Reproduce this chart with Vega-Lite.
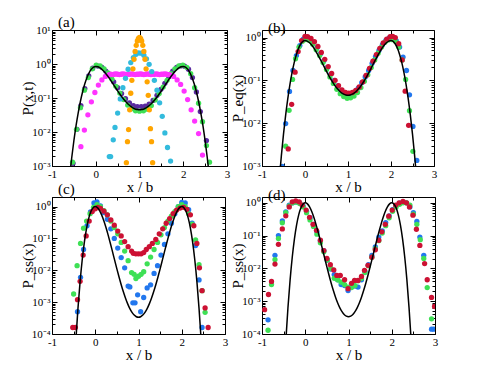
{
"$schema": "https://vega.github.io/schema/vega-lite/v6.json",
"padding": {"left": 20, "top": 15, "right": 5, "bottom": 5},
"config": {
 "font": "Liberation Serif",
 "view": {"stroke": null},
 "axis": {"grid": false, "domainColor": "black", "tickColor": "black", "labelColor": "black", "titleColor": "black", "labelFont": "Liberation Serif", "titleFont": "Liberation Serif", "labelFontSize": 11, "titleFontSize": 15, "titleFontWeight": "normal", "labelOverlap": false, "labelFlush": false},
 "title": {"font": "Liberation Serif", "fontSize": 15, "fontWeight": "normal", "anchor": "start", "color": "black", "frame": "group"}
},
"datasets": {
 "pts": [
  {"p":"a","s":"purple","x":-0.52,"y":0.0012},{"p":"a","s":"purple","x":-0.43,"y":0.012},{"p":"a","s":"purple","x":-0.34,"y":0.06},{"p":"a","s":"purple","x":-0.25,"y":0.19},{"p":"a","s":"purple","x":-0.16,"y":0.45},{"p":"a","s":"purple","x":-0.07,"y":0.75},{"p":"a","s":"purple","x":0.05,"y":0.87},{"p":"a","s":"purple","x":0.14,"y":0.8},{"p":"a","s":"purple","x":0.23,"y":0.62},{"p":"a","s":"purple","x":0.32,"y":0.45},{"p":"a","s":"purple","x":0.41,"y":0.3},{"p":"a","s":"purple","x":0.5,"y":0.2},{"p":"a","s":"purple","x":0.59,"y":0.135},{"p":"a","s":"purple","x":0.68,"y":0.095},{"p":"a","s":"purple","x":0.77,"y":0.072},{"p":"a","s":"purple","x":0.86,"y":0.06},{"p":"a","s":"purple","x":0.95,"y":0.056},{"p":"a","s":"purple","x":1.04,"y":0.056},{"p":"a","s":"purple","x":1.13,"y":0.058},{"p":"a","s":"purple","x":1.22,"y":0.066},{"p":"a","s":"purple","x":1.31,"y":0.085},{"p":"a","s":"purple","x":1.4,"y":0.12},{"p":"a","s":"purple","x":1.49,"y":0.18},{"p":"a","s":"purple","x":1.58,"y":0.27},{"p":"a","s":"purple","x":1.67,"y":0.42},{"p":"a","s":"purple","x":1.76,"y":0.62},{"p":"a","s":"purple","x":1.85,"y":0.8},{"p":"a","s":"purple","x":1.94,"y":0.88},{"p":"a","s":"purple","x":2.03,"y":0.86},{"p":"a","s":"purple","x":2.12,"y":0.7},{"p":"a","s":"purple","x":2.21,"y":0.4},{"p":"a","s":"purple","x":2.3,"y":0.15},{"p":"a","s":"purple","x":2.39,"y":0.04},{"p":"a","s":"purple","x":2.53,"y":0.0056},
  {"p":"a","s":"green","x":-0.53,"y":0.0013},{"p":"a","s":"green","x":-0.44,"y":0.012},{"p":"a","s":"green","x":-0.35,"y":0.052},{"p":"a","s":"green","x":-0.26,"y":0.17},{"p":"a","s":"green","x":-0.17,"y":0.4},{"p":"a","s":"green","x":-0.08,"y":0.72},{"p":"a","s":"green","x":0.01,"y":0.93},{"p":"a","s":"green","x":0.1,"y":0.88},{"p":"a","s":"green","x":0.19,"y":0.72},{"p":"a","s":"green","x":0.28,"y":0.55},{"p":"a","s":"green","x":0.37,"y":0.36},{"p":"a","s":"green","x":0.46,"y":0.22},{"p":"a","s":"green","x":0.55,"y":0.14},{"p":"a","s":"green","x":0.64,"y":0.09},{"p":"a","s":"green","x":0.73,"y":0.062},{"p":"a","s":"green","x":0.82,"y":0.048},{"p":"a","s":"green","x":0.91,"y":0.042},{"p":"a","s":"green","x":1.0,"y":0.041},{"p":"a","s":"green","x":1.09,"y":0.042},{"p":"a","s":"green","x":1.18,"y":0.047},{"p":"a","s":"green","x":1.27,"y":0.06},{"p":"a","s":"green","x":1.36,"y":0.088},{"p":"a","s":"green","x":1.45,"y":0.135},{"p":"a","s":"green","x":1.54,"y":0.21},{"p":"a","s":"green","x":1.63,"y":0.33},{"p":"a","s":"green","x":1.72,"y":0.52},{"p":"a","s":"green","x":1.81,"y":0.72},{"p":"a","s":"green","x":1.9,"y":0.88},{"p":"a","s":"green","x":1.99,"y":0.93},{"p":"a","s":"green","x":2.08,"y":0.8},{"p":"a","s":"green","x":2.17,"y":0.52},{"p":"a","s":"green","x":2.26,"y":0.2},{"p":"a","s":"green","x":2.35,"y":0.07},{"p":"a","s":"green","x":2.44,"y":0.02},{"p":"a","s":"green","x":2.53,"y":0.004},{"p":"a","s":"green","x":2.6,"y":0.0013},
  {"p":"a","s":"magenta","x":-0.34,"y":0.0037},{"p":"a","s":"magenta","x":-0.26,"y":0.0114},{"p":"a","s":"magenta","x":-0.18,"y":0.032},{"p":"a","s":"magenta","x":-0.1,"y":0.077},{"p":"a","s":"magenta","x":-0.02,"y":0.145},{"p":"a","s":"magenta","x":0.06,"y":0.24},{"p":"a","s":"magenta","x":0.14,"y":0.34},{"p":"a","s":"magenta","x":0.22,"y":0.43},{"p":"a","s":"magenta","x":0.3,"y":0.48},{"p":"a","s":"magenta","x":0.34,"y":0.5},{"p":"a","s":"magenta","x":0.38,"y":0.49},{"p":"a","s":"magenta","x":0.42,"y":0.5},{"p":"a","s":"magenta","x":0.46,"y":0.51},{"p":"a","s":"magenta","x":0.5,"y":0.5},{"p":"a","s":"magenta","x":0.54,"y":0.49},{"p":"a","s":"magenta","x":0.58,"y":0.5},{"p":"a","s":"magenta","x":0.62,"y":0.51},{"p":"a","s":"magenta","x":0.66,"y":0.5},{"p":"a","s":"magenta","x":0.7,"y":0.49},{"p":"a","s":"magenta","x":0.74,"y":0.5},{"p":"a","s":"magenta","x":0.78,"y":0.5},{"p":"a","s":"magenta","x":0.82,"y":0.51},{"p":"a","s":"magenta","x":0.86,"y":0.5},{"p":"a","s":"magenta","x":0.9,"y":0.49},{"p":"a","s":"magenta","x":0.94,"y":0.5},{"p":"a","s":"magenta","x":0.98,"y":0.5},{"p":"a","s":"magenta","x":1.02,"y":0.51},{"p":"a","s":"magenta","x":1.06,"y":0.5},{"p":"a","s":"magenta","x":1.1,"y":0.49},{"p":"a","s":"magenta","x":1.14,"y":0.5},{"p":"a","s":"magenta","x":1.18,"y":0.51},{"p":"a","s":"magenta","x":1.22,"y":0.5},{"p":"a","s":"magenta","x":1.26,"y":0.49},{"p":"a","s":"magenta","x":1.3,"y":0.5},{"p":"a","s":"magenta","x":1.34,"y":0.5},{"p":"a","s":"magenta","x":1.38,"y":0.51},{"p":"a","s":"magenta","x":1.42,"y":0.5},{"p":"a","s":"magenta","x":1.46,"y":0.49},{"p":"a","s":"magenta","x":1.5,"y":0.5},{"p":"a","s":"magenta","x":1.54,"y":0.5},{"p":"a","s":"magenta","x":1.58,"y":0.51},{"p":"a","s":"magenta","x":1.62,"y":0.5},{"p":"a","s":"magenta","x":1.66,"y":0.49},{"p":"a","s":"magenta","x":1.7,"y":0.48},{"p":"a","s":"magenta","x":1.78,"y":0.43},{"p":"a","s":"magenta","x":1.86,"y":0.34},{"p":"a","s":"magenta","x":1.94,"y":0.25},{"p":"a","s":"magenta","x":2.02,"y":0.16},{"p":"a","s":"magenta","x":2.1,"y":0.09},{"p":"a","s":"magenta","x":2.18,"y":0.045},{"p":"a","s":"magenta","x":2.26,"y":0.021},{"p":"a","s":"magenta","x":2.35,"y":0.009},{"p":"a","s":"magenta","x":2.44,"y":0.0021},
  {"p":"a","s":"cyan","x":0.31,"y":0.0019},{"p":"a","s":"cyan","x":0.34,"y":0.0019},{"p":"a","s":"cyan","x":0.4,"y":0.0059},{"p":"a","s":"cyan","x":0.44,"y":0.0136},{"p":"a","s":"cyan","x":0.5,"y":0.036},{"p":"a","s":"cyan","x":0.56,"y":0.094},{"p":"a","s":"cyan","x":0.62,"y":0.2},{"p":"a","s":"cyan","x":0.68,"y":0.38},{"p":"a","s":"cyan","x":0.74,"y":0.7},{"p":"a","s":"cyan","x":0.8,"y":1.1},{"p":"a","s":"cyan","x":0.86,"y":1.55},{"p":"a","s":"cyan","x":0.92,"y":1.93},{"p":"a","s":"cyan","x":0.98,"y":2.12},{"p":"a","s":"cyan","x":1.04,"y":2.08},{"p":"a","s":"cyan","x":1.1,"y":1.82},{"p":"a","s":"cyan","x":1.16,"y":1.42},{"p":"a","s":"cyan","x":1.22,"y":0.98},{"p":"a","s":"cyan","x":1.28,"y":0.6},{"p":"a","s":"cyan","x":1.34,"y":0.33},{"p":"a","s":"cyan","x":1.4,"y":0.17},{"p":"a","s":"cyan","x":1.46,"y":0.072},{"p":"a","s":"cyan","x":1.52,"y":0.029},{"p":"a","s":"cyan","x":1.58,"y":0.0094},{"p":"a","s":"cyan","x":1.64,"y":0.0035},{"p":"a","s":"cyan","x":1.71,"y":0.0014},
  {"p":"a","s":"orange","x":0.7,"y":0.00125},{"p":"a","s":"orange","x":0.725,"y":0.0052},{"p":"a","s":"orange","x":0.75,"y":0.0118},{"p":"a","s":"orange","x":0.775,"y":0.045},{"p":"a","s":"orange","x":0.8,"y":0.138},{"p":"a","s":"orange","x":0.825,"y":0.33},{"p":"a","s":"orange","x":0.85,"y":0.72},{"p":"a","s":"orange","x":0.875,"y":1.38},{"p":"a","s":"orange","x":0.9,"y":2.34},{"p":"a","s":"orange","x":0.925,"y":3.54},{"p":"a","s":"orange","x":0.95,"y":4.76},{"p":"a","s":"orange","x":0.975,"y":5.68},{"p":"a","s":"orange","x":1.0,"y":6.03},{"p":"a","s":"orange","x":1.025,"y":5.68},{"p":"a","s":"orange","x":1.05,"y":4.76},{"p":"a","s":"orange","x":1.075,"y":3.54},{"p":"a","s":"orange","x":1.1,"y":2.34},{"p":"a","s":"orange","x":1.125,"y":1.38},{"p":"a","s":"orange","x":1.15,"y":0.72},{"p":"a","s":"orange","x":1.175,"y":0.3},{"p":"a","s":"orange","x":1.2,"y":0.12},{"p":"a","s":"orange","x":1.225,"y":0.045},{"p":"a","s":"orange","x":1.25,"y":0.0125},{"p":"a","s":"orange","x":1.275,"y":0.0052},{"p":"a","s":"orange","x":1.3,"y":0.00125},

  {"p":"b","s":"blue","x":-0.53,"y":0.00098},{"p":"b","s":"blue","x":-0.45,"y":0.0098},{"p":"b","s":"blue","x":-0.36,"y":0.055},{"p":"b","s":"blue","x":-0.28,"y":0.17},{"p":"b","s":"blue","x":-0.2,"y":0.38},{"p":"b","s":"blue","x":-0.12,"y":0.65},{"p":"b","s":"blue","x":-0.04,"y":0.92},{"p":"b","s":"blue","x":0.04,"y":1.0},{"p":"b","s":"blue","x":0.12,"y":0.93},{"p":"b","s":"blue","x":0.2,"y":0.78},{"p":"b","s":"blue","x":0.28,"y":0.58},{"p":"b","s":"blue","x":0.36,"y":0.42},{"p":"b","s":"blue","x":0.44,"y":0.29},{"p":"b","s":"blue","x":0.52,"y":0.2},{"p":"b","s":"blue","x":0.6,"y":0.14},{"p":"b","s":"blue","x":0.68,"y":0.1},{"p":"b","s":"blue","x":0.76,"y":0.074},{"p":"b","s":"blue","x":0.84,"y":0.058},{"p":"b","s":"blue","x":0.92,"y":0.049},{"p":"b","s":"blue","x":1.0,"y":0.046},{"p":"b","s":"blue","x":1.08,"y":0.048},{"p":"b","s":"blue","x":1.16,"y":0.054},{"p":"b","s":"blue","x":1.24,"y":0.066},{"p":"b","s":"blue","x":1.32,"y":0.088},{"p":"b","s":"blue","x":1.4,"y":0.12},{"p":"b","s":"blue","x":1.48,"y":0.17},{"p":"b","s":"blue","x":1.56,"y":0.25},{"p":"b","s":"blue","x":1.64,"y":0.36},{"p":"b","s":"blue","x":1.72,"y":0.5},{"p":"b","s":"blue","x":1.8,"y":0.68},{"p":"b","s":"blue","x":1.88,"y":0.86},{"p":"b","s":"blue","x":1.96,"y":0.98},{"p":"b","s":"blue","x":2.04,"y":0.97},{"p":"b","s":"blue","x":2.12,"y":0.85},{"p":"b","s":"blue","x":2.2,"y":0.6},{"p":"b","s":"blue","x":2.28,"y":0.35},{"p":"b","s":"blue","x":2.36,"y":0.17},{"p":"b","s":"blue","x":2.43,"y":0.046},{"p":"b","s":"blue","x":2.51,"y":0.0084},{"p":"b","s":"blue","x":2.6,"y":0.00135},
  {"p":"b","s":"green","x":-0.45,"y":0.0029},{"p":"b","s":"green","x":-0.37,"y":0.02},{"p":"b","s":"green","x":-0.29,"y":0.105},{"p":"b","s":"green","x":-0.22,"y":0.32},{"p":"b","s":"green","x":-0.14,"y":0.6},{"p":"b","s":"green","x":-0.06,"y":0.82},{"p":"b","s":"green","x":0.02,"y":0.9},{"p":"b","s":"green","x":0.1,"y":0.85},{"p":"b","s":"green","x":0.18,"y":0.7},{"p":"b","s":"green","x":0.26,"y":0.52},{"p":"b","s":"green","x":0.34,"y":0.38},{"p":"b","s":"green","x":0.42,"y":0.26},{"p":"b","s":"green","x":0.5,"y":0.18},{"p":"b","s":"green","x":0.58,"y":0.12},{"p":"b","s":"green","x":0.66,"y":0.085},{"p":"b","s":"green","x":0.74,"y":0.062},{"p":"b","s":"green","x":0.82,"y":0.049},{"p":"b","s":"green","x":0.9,"y":0.042},{"p":"b","s":"green","x":0.98,"y":0.038},{"p":"b","s":"green","x":1.06,"y":0.039},{"p":"b","s":"green","x":1.14,"y":0.043},{"p":"b","s":"green","x":1.22,"y":0.052},{"p":"b","s":"green","x":1.3,"y":0.068},{"p":"b","s":"green","x":1.38,"y":0.095},{"p":"b","s":"green","x":1.46,"y":0.135},{"p":"b","s":"green","x":1.54,"y":0.2},{"p":"b","s":"green","x":1.62,"y":0.3},{"p":"b","s":"green","x":1.7,"y":0.43},{"p":"b","s":"green","x":1.78,"y":0.6},{"p":"b","s":"green","x":1.86,"y":0.78},{"p":"b","s":"green","x":1.94,"y":0.88},{"p":"b","s":"green","x":2.02,"y":0.9},{"p":"b","s":"green","x":2.1,"y":0.82},{"p":"b","s":"green","x":2.18,"y":0.6},{"p":"b","s":"green","x":2.26,"y":0.3},{"p":"b","s":"green","x":2.34,"y":0.105},{"p":"b","s":"green","x":2.43,"y":0.0195},{"p":"b","s":"green","x":2.51,"y":0.0022},
  {"p":"b","s":"red","x":-0.39,"y":0.0025},{"p":"b","s":"red","x":-0.31,"y":0.0275},{"p":"b","s":"red","x":-0.23,"y":0.155},{"p":"b","s":"red","x":-0.16,"y":0.47},{"p":"b","s":"red","x":-0.08,"y":0.85},{"p":"b","s":"red","x":0.0,"y":1.07},{"p":"b","s":"red","x":0.06,"y":1.05},{"p":"b","s":"red","x":0.14,"y":0.95},{"p":"b","s":"red","x":0.22,"y":0.8},{"p":"b","s":"red","x":0.3,"y":0.62},{"p":"b","s":"red","x":0.38,"y":0.45},{"p":"b","s":"red","x":0.46,"y":0.31},{"p":"b","s":"red","x":0.54,"y":0.21},{"p":"b","s":"red","x":0.62,"y":0.145},{"p":"b","s":"red","x":0.7,"y":0.1},{"p":"b","s":"red","x":0.78,"y":0.075},{"p":"b","s":"red","x":0.86,"y":0.06},{"p":"b","s":"red","x":0.94,"y":0.052},{"p":"b","s":"red","x":1.02,"y":0.05},{"p":"b","s":"red","x":1.1,"y":0.052},{"p":"b","s":"red","x":1.18,"y":0.058},{"p":"b","s":"red","x":1.26,"y":0.07},{"p":"b","s":"red","x":1.34,"y":0.092},{"p":"b","s":"red","x":1.42,"y":0.13},{"p":"b","s":"red","x":1.5,"y":0.19},{"p":"b","s":"red","x":1.58,"y":0.28},{"p":"b","s":"red","x":1.66,"y":0.4},{"p":"b","s":"red","x":1.74,"y":0.56},{"p":"b","s":"red","x":1.82,"y":0.75},{"p":"b","s":"red","x":1.9,"y":0.92},{"p":"b","s":"red","x":1.98,"y":1.05},{"p":"b","s":"red","x":2.04,"y":1.07},{"p":"b","s":"red","x":2.1,"y":1.0},{"p":"b","s":"red","x":2.18,"y":0.72},{"p":"b","s":"red","x":2.26,"y":0.3},{"p":"b","s":"red","x":2.33,"y":0.056},{"p":"b","s":"red","x":2.41,"y":0.0089},

  {"p":"c","s":"blue","x":-0.41,"y":0.0005},{"p":"c","s":"blue","x":-0.34,"y":0.006},{"p":"c","s":"blue","x":-0.27,"y":0.045},{"p":"c","s":"blue","x":-0.19,"y":0.25},{"p":"c","s":"blue","x":-0.11,"y":0.68},{"p":"c","s":"blue","x":-0.03,"y":1.3},{"p":"c","s":"blue","x":0.04,"y":1.4},{"p":"c","s":"blue","x":0.12,"y":1.05},{"p":"c","s":"blue","x":0.2,"y":0.65},{"p":"c","s":"blue","x":0.28,"y":0.4},{"p":"c","s":"blue","x":0.36,"y":0.2},{"p":"c","s":"blue","x":0.44,"y":0.1},{"p":"c","s":"blue","x":0.52,"y":0.05},{"p":"c","s":"blue","x":0.6,"y":0.025},{"p":"c","s":"blue","x":0.68,"y":0.012},{"p":"c","s":"blue","x":0.76,"y":0.0032},{"p":"c","s":"blue","x":0.8,"y":0.003},{"p":"c","s":"blue","x":0.87,"y":0.00095},{"p":"c","s":"blue","x":0.92,"y":0.00095},{"p":"c","s":"blue","x":0.98,"y":0.0017},{"p":"c","s":"blue","x":1.05,"y":0.0005},{"p":"c","s":"blue","x":1.12,"y":0.0014},{"p":"c","s":"blue","x":1.2,"y":0.0028},{"p":"c","s":"blue","x":1.28,"y":0.0035},{"p":"c","s":"blue","x":1.36,"y":0.008},{"p":"c","s":"blue","x":1.44,"y":0.014},{"p":"c","s":"blue","x":1.52,"y":0.03},{"p":"c","s":"blue","x":1.6,"y":0.065},{"p":"c","s":"blue","x":1.68,"y":0.14},{"p":"c","s":"blue","x":1.76,"y":0.3},{"p":"c","s":"blue","x":1.84,"y":0.6},{"p":"c","s":"blue","x":1.92,"y":1.0},{"p":"c","s":"blue","x":2.0,"y":1.35},{"p":"c","s":"blue","x":2.08,"y":1.3},{"p":"c","s":"blue","x":2.16,"y":0.8},{"p":"c","s":"blue","x":2.24,"y":0.3},{"p":"c","s":"blue","x":2.32,"y":0.06},{"p":"c","s":"blue","x":2.4,"y":0.005},{"p":"c","s":"blue","x":2.47,"y":0.00016},
  {"p":"c","s":"green","x":-0.5,"y":0.0018},{"p":"c","s":"green","x":-0.42,"y":0.014},{"p":"c","s":"green","x":-0.34,"y":0.07},{"p":"c","s":"green","x":-0.27,"y":0.21},{"p":"c","s":"green","x":-0.2,"y":0.35},{"p":"c","s":"green","x":-0.12,"y":0.6},{"p":"c","s":"green","x":-0.04,"y":0.95},{"p":"c","s":"green","x":0.04,"y":1.15},{"p":"c","s":"green","x":0.12,"y":1.0},{"p":"c","s":"green","x":0.2,"y":0.75},{"p":"c","s":"green","x":0.28,"y":0.55},{"p":"c","s":"green","x":0.36,"y":0.35},{"p":"c","s":"green","x":0.44,"y":0.22},{"p":"c","s":"green","x":0.52,"y":0.14},{"p":"c","s":"green","x":0.6,"y":0.075},{"p":"c","s":"green","x":0.68,"y":0.04},{"p":"c","s":"green","x":0.76,"y":0.02},{"p":"c","s":"green","x":0.84,"y":0.0085},{"p":"c","s":"green","x":0.9,"y":0.0075},{"p":"c","s":"green","x":0.94,"y":0.0055},{"p":"c","s":"green","x":1.0,"y":0.0065},{"p":"c","s":"green","x":1.06,"y":0.0075},{"p":"c","s":"green","x":1.12,"y":0.009},{"p":"c","s":"green","x":1.2,"y":0.016},{"p":"c","s":"green","x":1.28,"y":0.026},{"p":"c","s":"green","x":1.36,"y":0.045},{"p":"c","s":"green","x":1.44,"y":0.075},{"p":"c","s":"green","x":1.52,"y":0.13},{"p":"c","s":"green","x":1.6,"y":0.22},{"p":"c","s":"green","x":1.68,"y":0.35},{"p":"c","s":"green","x":1.76,"y":0.5},{"p":"c","s":"green","x":1.84,"y":0.7},{"p":"c","s":"green","x":1.92,"y":1.0},{"p":"c","s":"green","x":2.0,"y":1.15},{"p":"c","s":"green","x":2.08,"y":1.0},{"p":"c","s":"green","x":2.16,"y":0.6},{"p":"c","s":"green","x":2.24,"y":0.28},{"p":"c","s":"green","x":2.32,"y":0.09},{"p":"c","s":"green","x":2.4,"y":0.015},{"p":"c","s":"green","x":2.47,"y":0.0023},{"p":"c","s":"green","x":2.54,"y":0.00048},
  {"p":"c","s":"red","x":-0.52,"y":0.00016},{"p":"c","s":"red","x":-0.46,"y":0.00016},{"p":"c","s":"red","x":-0.41,"y":0.0012},{"p":"c","s":"red","x":-0.35,"y":0.0045},{"p":"c","s":"red","x":-0.28,"y":0.03},{"p":"c","s":"red","x":-0.21,"y":0.12},{"p":"c","s":"red","x":-0.14,"y":0.35},{"p":"c","s":"red","x":-0.07,"y":0.7},{"p":"c","s":"red","x":0.0,"y":0.85},{"p":"c","s":"red","x":0.06,"y":0.95},{"p":"c","s":"red","x":0.12,"y":0.88},{"p":"c","s":"red","x":0.2,"y":0.72},{"p":"c","s":"red","x":0.28,"y":0.55},{"p":"c","s":"red","x":0.36,"y":0.38},{"p":"c","s":"red","x":0.44,"y":0.26},{"p":"c","s":"red","x":0.52,"y":0.17},{"p":"c","s":"red","x":0.6,"y":0.12},{"p":"c","s":"red","x":0.68,"y":0.08},{"p":"c","s":"red","x":0.76,"y":0.055},{"p":"c","s":"red","x":0.84,"y":0.04},{"p":"c","s":"red","x":0.88,"y":0.034},{"p":"c","s":"red","x":0.94,"y":0.033},{"p":"c","s":"red","x":1.0,"y":0.033},{"p":"c","s":"red","x":1.06,"y":0.033},{"p":"c","s":"red","x":1.12,"y":0.036},{"p":"c","s":"red","x":1.18,"y":0.045},{"p":"c","s":"red","x":1.25,"y":0.055},{"p":"c","s":"red","x":1.32,"y":0.07},{"p":"c","s":"red","x":1.4,"y":0.093},{"p":"c","s":"red","x":1.48,"y":0.14},{"p":"c","s":"red","x":1.56,"y":0.2},{"p":"c","s":"red","x":1.64,"y":0.3},{"p":"c","s":"red","x":1.72,"y":0.42},{"p":"c","s":"red","x":1.8,"y":0.6},{"p":"c","s":"red","x":1.88,"y":0.78},{"p":"c","s":"red","x":1.96,"y":0.9},{"p":"c","s":"red","x":2.04,"y":0.95},{"p":"c","s":"red","x":2.12,"y":0.82},{"p":"c","s":"red","x":2.2,"y":0.55},{"p":"c","s":"red","x":2.28,"y":0.25},{"p":"c","s":"red","x":2.35,"y":0.07},{"p":"c","s":"red","x":2.41,"y":0.012},{"p":"c","s":"red","x":2.47,"y":0.0023},{"p":"c","s":"red","x":2.54,"y":0.00066},{"p":"c","s":"red","x":2.61,"y":0.00016},

  {"p":"d","s":"blue","x":-0.86,"y":0.00027},{"p":"d","s":"blue","x":-0.7,"y":0.025},{"p":"d","s":"blue","x":-0.62,"y":0.1},{"p":"d","s":"blue","x":-0.53,"y":0.28},{"p":"d","s":"blue","x":-0.45,"y":0.53},{"p":"d","s":"blue","x":-0.37,"y":0.85},{"p":"d","s":"blue","x":-0.29,"y":1.0},{"p":"d","s":"blue","x":-0.21,"y":1.05},{"p":"d","s":"blue","x":-0.13,"y":1.0},{"p":"d","s":"blue","x":-0.05,"y":0.8},{"p":"d","s":"blue","x":0.03,"y":0.55},{"p":"d","s":"blue","x":0.11,"y":0.35},{"p":"d","s":"blue","x":0.19,"y":0.22},{"p":"d","s":"blue","x":0.27,"y":0.13},{"p":"d","s":"blue","x":0.35,"y":0.07},{"p":"d","s":"blue","x":0.43,"y":0.035},{"p":"d","s":"blue","x":0.51,"y":0.018},{"p":"d","s":"blue","x":0.59,"y":0.0095},{"p":"d","s":"blue","x":0.67,"y":0.0065},{"p":"d","s":"blue","x":0.75,"y":0.0045},{"p":"d","s":"blue","x":0.83,"y":0.0032},{"p":"d","s":"blue","x":0.91,"y":0.003},{"p":"d","s":"blue","x":0.99,"y":0.0021},{"p":"d","s":"blue","x":1.07,"y":0.0028},{"p":"d","s":"blue","x":1.15,"y":0.0029},{"p":"d","s":"blue","x":1.22,"y":0.0027},{"p":"d","s":"blue","x":1.3,"y":0.0045},{"p":"d","s":"blue","x":1.38,"y":0.008},{"p":"d","s":"blue","x":1.46,"y":0.013},{"p":"d","s":"blue","x":1.54,"y":0.025},{"p":"d","s":"blue","x":1.62,"y":0.045},{"p":"d","s":"blue","x":1.7,"y":0.09},{"p":"d","s":"blue","x":1.78,"y":0.14},{"p":"d","s":"blue","x":1.86,"y":0.25},{"p":"d","s":"blue","x":1.94,"y":0.4},{"p":"d","s":"blue","x":2.02,"y":0.62},{"p":"d","s":"blue","x":2.1,"y":0.82},{"p":"d","s":"blue","x":2.18,"y":0.97},{"p":"d","s":"blue","x":2.26,"y":1.05},{"p":"d","s":"blue","x":2.34,"y":1.0},{"p":"d","s":"blue","x":2.42,"y":0.75},{"p":"d","s":"blue","x":2.5,"y":0.5},{"p":"d","s":"blue","x":2.58,"y":0.27},{"p":"d","s":"blue","x":2.65,"y":0.09},{"p":"d","s":"blue","x":2.74,"y":0.025},{"p":"d","s":"blue","x":2.92,"y":0.00014},{"p":"d","s":"blue","x":2.97,"y":0.00014},
  {"p":"d","s":"green","x":-0.86,"y":0.00013},{"p":"d","s":"green","x":-0.78,"y":0.0032},{"p":"d","s":"green","x":-0.7,"y":0.0185},{"p":"d","s":"green","x":-0.62,"y":0.081},{"p":"d","s":"green","x":-0.53,"y":0.245},{"p":"d","s":"green","x":-0.45,"y":0.5},{"p":"d","s":"green","x":-0.37,"y":0.8},{"p":"d","s":"green","x":-0.29,"y":1.0},{"p":"d","s":"green","x":-0.21,"y":1.05},{"p":"d","s":"green","x":-0.13,"y":0.95},{"p":"d","s":"green","x":-0.05,"y":0.75},{"p":"d","s":"green","x":0.03,"y":0.5},{"p":"d","s":"green","x":0.11,"y":0.3},{"p":"d","s":"green","x":0.19,"y":0.19},{"p":"d","s":"green","x":0.27,"y":0.11},{"p":"d","s":"green","x":0.35,"y":0.06},{"p":"d","s":"green","x":0.43,"y":0.032},{"p":"d","s":"green","x":0.51,"y":0.018},{"p":"d","s":"green","x":0.59,"y":0.01},{"p":"d","s":"green","x":0.67,"y":0.005},{"p":"d","s":"green","x":0.75,"y":0.0045},{"p":"d","s":"green","x":0.83,"y":0.0038},{"p":"d","s":"green","x":0.91,"y":0.0032},{"p":"d","s":"green","x":0.99,"y":0.0027},{"p":"d","s":"green","x":1.07,"y":0.0026},{"p":"d","s":"green","x":1.15,"y":0.003},{"p":"d","s":"green","x":1.22,"y":0.0042},{"p":"d","s":"green","x":1.3,"y":0.005},{"p":"d","s":"green","x":1.38,"y":0.0075},{"p":"d","s":"green","x":1.46,"y":0.012},{"p":"d","s":"green","x":1.54,"y":0.022},{"p":"d","s":"green","x":1.62,"y":0.04},{"p":"d","s":"green","x":1.7,"y":0.07},{"p":"d","s":"green","x":1.78,"y":0.12},{"p":"d","s":"green","x":1.86,"y":0.2},{"p":"d","s":"green","x":1.94,"y":0.35},{"p":"d","s":"green","x":2.02,"y":0.55},{"p":"d","s":"green","x":2.1,"y":0.75},{"p":"d","s":"green","x":2.18,"y":0.9},{"p":"d","s":"green","x":2.26,"y":1.0},{"p":"d","s":"green","x":2.34,"y":1.0},{"p":"d","s":"green","x":2.42,"y":0.85},{"p":"d","s":"green","x":2.5,"y":0.45},{"p":"d","s":"green","x":2.58,"y":0.22},{"p":"d","s":"green","x":2.66,"y":0.075},{"p":"d","s":"green","x":2.74,"y":0.02},{"p":"d","s":"green","x":2.82,"y":0.0026},{"p":"d","s":"green","x":2.92,"y":0.00029},
  {"p":"d","s":"red","x":-0.94,"y":0.00055},{"p":"d","s":"red","x":-0.85,"y":0.0016},{"p":"d","s":"red","x":-0.78,"y":0.004},{"p":"d","s":"red","x":-0.7,"y":0.0135},{"p":"d","s":"red","x":-0.62,"y":0.054},{"p":"d","s":"red","x":-0.53,"y":0.16},{"p":"d","s":"red","x":-0.45,"y":0.4},{"p":"d","s":"red","x":-0.37,"y":0.75},{"p":"d","s":"red","x":-0.3,"y":1.07},{"p":"d","s":"red","x":-0.22,"y":1.15},{"p":"d","s":"red","x":-0.14,"y":1.07},{"p":"d","s":"red","x":-0.07,"y":0.85},{"p":"d","s":"red","x":0.02,"y":0.6},{"p":"d","s":"red","x":0.1,"y":0.36},{"p":"d","s":"red","x":0.18,"y":0.22},{"p":"d","s":"red","x":0.26,"y":0.145},{"p":"d","s":"red","x":0.35,"y":0.072},{"p":"d","s":"red","x":0.43,"y":0.035},{"p":"d","s":"red","x":0.5,"y":0.02},{"p":"d","s":"red","x":0.58,"y":0.013},{"p":"d","s":"red","x":0.66,"y":0.009},{"p":"d","s":"red","x":0.73,"y":0.0061},{"p":"d","s":"red","x":0.81,"y":0.0061},{"p":"d","s":"red","x":0.91,"y":0.0045},{"p":"d","s":"red","x":0.99,"y":0.0024},{"p":"d","s":"red","x":1.07,"y":0.0035},{"p":"d","s":"red","x":1.14,"y":0.0043},{"p":"d","s":"red","x":1.22,"y":0.0043},{"p":"d","s":"red","x":1.3,"y":0.0057},{"p":"d","s":"red","x":1.37,"y":0.0087},{"p":"d","s":"red","x":1.45,"y":0.0124},{"p":"d","s":"red","x":1.54,"y":0.022},{"p":"d","s":"red","x":1.62,"y":0.037},{"p":"d","s":"red","x":1.7,"y":0.072},{"p":"d","s":"red","x":1.77,"y":0.13},{"p":"d","s":"red","x":1.85,"y":0.22},{"p":"d","s":"red","x":1.93,"y":0.39},{"p":"d","s":"red","x":2.01,"y":0.6},{"p":"d","s":"red","x":2.09,"y":0.85},{"p":"d","s":"red","x":2.17,"y":1.0},{"p":"d","s":"red","x":2.26,"y":1.1},{"p":"d","s":"red","x":2.34,"y":1.0},{"p":"d","s":"red","x":2.41,"y":0.75},{"p":"d","s":"red","x":2.49,"y":0.42},{"p":"d","s":"red","x":2.57,"y":0.156},{"p":"d","s":"red","x":2.65,"y":0.05},{"p":"d","s":"red","x":2.76,"y":0.014},{"p":"d","s":"red","x":2.82,"y":0.0045},{"p":"d","s":"red","x":2.92,"y":0.0013},{"p":"d","s":"red","x":2.99,"y":0.00069}
 ],
 "crv": [
  {"k":"eq","x":-0.6,"y":0.000458},{"k":"eq","x":-0.55,"y":0.00172},{"k":"eq","x":-0.5,"y":0.00553},{"k":"eq","x":-0.45,"y":0.0154},{"k":"eq","x":-0.4,"y":0.0374},{"k":"eq","x":-0.35,"y":0.0804},{"k":"eq","x":-0.3,"y":0.153},{"k":"eq","x":-0.25,"y":0.262},{"k":"eq","x":-0.2,"y":0.403},{"k":"eq","x":-0.15,"y":0.56},{"k":"eq","x":-0.1,"y":0.707},{"k":"eq","x":-0.05,"y":0.813},{"k":"eq","x":0,"y":0.85},{"k":"eq","x":0.05,"y":0.8266},{"k":"eq","x":0.1,"y":0.7644},{"k":"eq","x":0.15,"y":0.6778},{"k":"eq","x":0.2,"y":0.5807},{"k":"eq","x":0.25,"y":0.4842},{"k":"eq","x":0.3,"y":0.3957},{"k":"eq","x":0.35,"y":0.3188},{"k":"eq","x":0.4,"y":0.2549},{"k":"eq","x":0.45,"y":0.2033},{"k":"eq","x":0.5,"y":0.1626},{"k":"eq","x":0.55,"y":0.1311},{"k":"eq","x":0.6,"y":0.1068},{"k":"eq","x":0.65,"y":0.0884},{"k":"eq","x":0.7,"y":0.0745},{"k":"eq","x":0.75,"y":0.0642},{"k":"eq","x":0.8,"y":0.0566},{"k":"eq","x":0.85,"y":0.0512},{"k":"eq","x":0.9,"y":0.0476},{"k":"eq","x":0.95,"y":0.0456},{"k":"eq","x":1.0,"y":0.045},{"k":"eq","x":1.05,"y":0.0456},{"k":"eq","x":1.1,"y":0.0476},{"k":"eq","x":1.15,"y":0.0512},{"k":"eq","x":1.2,"y":0.0566},{"k":"eq","x":1.25,"y":0.0642},{"k":"eq","x":1.3,"y":0.0745},{"k":"eq","x":1.35,"y":0.0884},{"k":"eq","x":1.4,"y":0.1068},{"k":"eq","x":1.45,"y":0.1311},{"k":"eq","x":1.5,"y":0.1626},{"k":"eq","x":1.55,"y":0.2033},{"k":"eq","x":1.6,"y":0.2549},{"k":"eq","x":1.65,"y":0.3188},{"k":"eq","x":1.7,"y":0.3957},{"k":"eq","x":1.75,"y":0.4842},{"k":"eq","x":1.8,"y":0.5807},{"k":"eq","x":1.85,"y":0.6778},{"k":"eq","x":1.9,"y":0.7644},{"k":"eq","x":1.95,"y":0.8266},{"k":"eq","x":2.0,"y":0.85},{"k":"eq","x":2.05,"y":0.813},{"k":"eq","x":2.1,"y":0.707},{"k":"eq","x":2.15,"y":0.56},{"k":"eq","x":2.2,"y":0.403},{"k":"eq","x":2.25,"y":0.262},{"k":"eq","x":2.3,"y":0.153},{"k":"eq","x":2.35,"y":0.0804},{"k":"eq","x":2.4,"y":0.0374},{"k":"eq","x":2.45,"y":0.0154},{"k":"eq","x":2.5,"y":0.00553},{"k":"eq","x":2.55,"y":0.00172},{"k":"eq","x":2.6,"y":0.000458},
  {"k":"ss","x":-0.45,"y":0.00006},{"k":"ss","x":-0.4,"y":0.000628},{"k":"ss","x":-0.35,"y":0.00447},{"k":"ss","x":-0.3,"y":0.0222},{"k":"ss","x":-0.25,"y":0.0796},{"k":"ss","x":-0.2,"y":0.2125},{"k":"ss","x":-0.15,"y":0.435},{"k":"ss","x":-0.1,"y":0.703},{"k":"ss","x":-0.05,"y":0.919},{"k":"ss","x":0,"y":1.0},{"k":"ss","x":0.05,"y":0.9268},{"k":"ss","x":0.1,"y":0.7492},{"k":"ss","x":0.15,"y":0.5401},{"k":"ss","x":0.2,"y":0.3546},{"k":"ss","x":0.25,"y":0.2163},{"k":"ss","x":0.3,"y":0.1248},{"k":"ss","x":0.35,"y":0.0694},{"k":"ss","x":0.4,"y":0.03775},{"k":"ss","x":0.45,"y":0.02041},{"k":"ss","x":0.5,"y":0.01111},{"k":"ss","x":0.55,"y":0.00617},{"k":"ss","x":0.6,"y":0.003536},{"k":"ss","x":0.65,"y":0.002112},{"k":"ss","x":0.7,"y":0.001327},{"k":"ss","x":0.75,"y":0.000884},{"k":"ss","x":0.8,"y":0.000628},{"k":"ss","x":0.85,"y":0.000479},{"k":"ss","x":0.9,"y":0.000393},{"k":"ss","x":0.95,"y":0.000349},{"k":"ss","x":1.0,"y":0.000335},{"k":"ss","x":1.05,"y":0.000349},{"k":"ss","x":1.1,"y":0.000393},{"k":"ss","x":1.15,"y":0.000479},{"k":"ss","x":1.2,"y":0.000628},{"k":"ss","x":1.25,"y":0.000884},{"k":"ss","x":1.3,"y":0.001327},{"k":"ss","x":1.35,"y":0.002112},{"k":"ss","x":1.4,"y":0.003536},{"k":"ss","x":1.45,"y":0.00617},{"k":"ss","x":1.5,"y":0.01111},{"k":"ss","x":1.55,"y":0.02041},{"k":"ss","x":1.6,"y":0.03775},{"k":"ss","x":1.65,"y":0.0694},{"k":"ss","x":1.7,"y":0.1248},{"k":"ss","x":1.75,"y":0.2163},{"k":"ss","x":1.8,"y":0.3546},{"k":"ss","x":1.85,"y":0.5401},{"k":"ss","x":1.9,"y":0.7492},{"k":"ss","x":1.95,"y":0.9268},{"k":"ss","x":2.0,"y":1.0},{"k":"ss","x":2.05,"y":0.919},{"k":"ss","x":2.1,"y":0.703},{"k":"ss","x":2.15,"y":0.435},{"k":"ss","x":2.2,"y":0.2125},{"k":"ss","x":2.25,"y":0.0796},{"k":"ss","x":2.3,"y":0.0222},{"k":"ss","x":2.35,"y":0.00447},{"k":"ss","x":2.4,"y":0.000628},{"k":"ss","x":2.45,"y":0.00006}
 ]
},
"columns": 2,
"spacing": {"row": 31, "column": 35},
"bounds": "flush",
"concat": [
  {"width": 175, "height": 136,
   "title": {"text": "(a)", "dx": 6, "offset": -6},
   "layer": [
    {"data": {"name": "pts"}, "transform": [{"filter": "datum.p == 'a'"}],
     "mark": {"type": "circle", "size": 28, "opacity": 1, "clip": true},
     "encoding": {
      "x": {"field": "x", "type": "quantitative", "scale": {"domain": [-1, 3]}, "axis": {"orient": "bottom", "values": [-1,-0.5,0,0.5,1,1.5,2,2.5,3], "labelExpr": "datum.value % 1 == 0 ? '' + datum.value : ''", "tickSize": {"condition": {"test": "datum.value % 1 == 0", "value": -5}, "value": -3}, "labelPadding": 7, "title": "x / b", "titlePadding": -2}},
      "y": {"field": "y", "type": "quantitative", "scale": {"type": "log", "domain": [0.001, 10]}, "axis": {"orient": "left", "values": [0.001,0.002,0.003,0.004,0.005,0.006,0.007,0.008,0.009,0.01,0.02,0.03,0.04,0.05,0.06,0.07,0.08,0.09,0.1,0.2,0.3,0.4,0.5,0.6,0.7,0.8,0.9,1,2,3,4,5,6,7,8,9,10], "labelExpr": "datum.value == 10 ? '10¹' : datum.value == 1 ? '10⁰' : datum.value == 0.1 ? '10⁻¹' : datum.value == 0.01 ? '10⁻²' : datum.value == 0.001 ? '10⁻³' : datum.value == 0.0001 ? '10⁻⁴' : ''", "tickSize": {"condition": {"test": "indexof([10,1,0.1,0.01,0.001,0.0001], datum.value) >= 0", "value": -5}, "value": -3}, "labelPadding": 7, "title": "P(x,t)", "titlePadding": -4}},
      "color": {"field": "s", "type": "nominal", "scale": {"domain": ["green","purple","magenta","cyan","orange","blue","red"], "range": ["#3ee055","#5a2aa0","#ff33ff","#33bbdd","#ffa500","#2277ee","#cc1133"]}, "legend": null}
     }},
    {"data": {"name": "crv"}, "transform": [{"filter": "datum.k == 'eq'"}],
     "mark": {"type": "line", "color": "black", "strokeWidth": 1.5, "clip": true, "interpolate": "monotone"},
     "encoding": {
      "x": {"field": "x", "type": "quantitative", "scale": {"domain": [-1, 3]}, "axis": {"orient": "top", "values": [-1,-0.5,0,0.5,1,1.5,2,2.5,3], "labels": false, "tickSize": {"condition": {"test": "datum.value % 1 == 0", "value": -5}, "value": -3}, "title": null}},
      "y": {"field": "y", "type": "quantitative", "scale": {"type": "log", "domain": [0.001, 10]}, "axis": {"orient": "right", "values": [0.001,0.002,0.003,0.004,0.005,0.006,0.007,0.008,0.009,0.01,0.02,0.03,0.04,0.05,0.06,0.07,0.08,0.09,0.1,0.2,0.3,0.4,0.5,0.6,0.7,0.8,0.9,1,2,3,4,5,6,7,8,9,10], "labels": false, "tickSize": {"condition": {"test": "indexof([10,1,0.1,0.01,0.001,0.0001], datum.value) >= 0", "value": -5}, "value": -3}, "title": null}}
     }}
   ],
   "resolve": {"axis": {"x": "independent", "y": "independent"}}
  },
  {"width": 172, "height": 136,
   "title": {"text": "(b)", "dx": 6, "offset": -6},
   "layer": [
    {"data": {"name": "pts"}, "transform": [{"filter": "datum.p == 'b'"}],
     "mark": {"type": "circle", "size": 28, "opacity": 1, "clip": true},
     "encoding": {
      "x": {"field": "x", "type": "quantitative", "scale": {"domain": [-1, 3]}, "axis": {"orient": "bottom", "values": [-1,-0.5,0,0.5,1,1.5,2,2.5,3], "labelExpr": "datum.value % 1 == 0 ? '' + datum.value : ''", "tickSize": {"condition": {"test": "datum.value % 1 == 0", "value": -5}, "value": -3}, "labelPadding": 7, "title": "x / b", "titlePadding": -2}},
      "y": {"field": "y", "type": "quantitative", "scale": {"type": "log", "domain": [0.001, 1.5]}, "axis": {"orient": "left", "values": [0.001,0.002,0.003,0.004,0.005,0.006,0.007,0.008,0.009,0.01,0.02,0.03,0.04,0.05,0.06,0.07,0.08,0.09,0.1,0.2,0.3,0.4,0.5,0.6,0.7,0.8,0.9,1], "labelExpr": "datum.value == 10 ? '10¹' : datum.value == 1 ? '10⁰' : datum.value == 0.1 ? '10⁻¹' : datum.value == 0.01 ? '10⁻²' : datum.value == 0.001 ? '10⁻³' : datum.value == 0.0001 ? '10⁻⁴' : ''", "tickSize": {"condition": {"test": "indexof([10,1,0.1,0.01,0.001,0.0001], datum.value) >= 0", "value": -5}, "value": -3}, "labelPadding": 7, "title": "P_eq(x)", "titlePadding": -4}},
      "color": {"field": "s", "type": "nominal", "scale": {"domain": ["green","purple","magenta","cyan","orange","blue","red"], "range": ["#3ee055","#5a2aa0","#ff33ff","#33bbdd","#ffa500","#2277ee","#cc1133"]}, "legend": null}
     }},
    {"data": {"name": "crv"}, "transform": [{"filter": "datum.k == 'eq'"}],
     "mark": {"type": "line", "color": "black", "strokeWidth": 1.5, "clip": true, "interpolate": "monotone"},
     "encoding": {
      "x": {"field": "x", "type": "quantitative", "scale": {"domain": [-1, 3]}, "axis": {"orient": "top", "values": [-1,-0.5,0,0.5,1,1.5,2,2.5,3], "labels": false, "tickSize": {"condition": {"test": "datum.value % 1 == 0", "value": -5}, "value": -3}, "title": null}},
      "y": {"field": "y", "type": "quantitative", "scale": {"type": "log", "domain": [0.001, 1.5]}, "axis": {"orient": "right", "values": [0.001,0.002,0.003,0.004,0.005,0.006,0.007,0.008,0.009,0.01,0.02,0.03,0.04,0.05,0.06,0.07,0.08,0.09,0.1,0.2,0.3,0.4,0.5,0.6,0.7,0.8,0.9,1], "labels": false, "tickSize": {"condition": {"test": "indexof([10,1,0.1,0.01,0.001,0.0001], datum.value) >= 0", "value": -5}, "value": -3}, "title": null}}
     }}
   ],
   "resolve": {"axis": {"x": "independent", "y": "independent"}}
  },
  {"width": 173, "height": 137,
   "title": {"text": "(c)", "dx": 6, "offset": -6},
   "layer": [
    {"data": {"name": "pts"}, "transform": [{"filter": "datum.p == 'c'"}],
     "mark": {"type": "circle", "size": 28, "opacity": 1, "clip": true},
     "encoding": {
      "x": {"field": "x", "type": "quantitative", "scale": {"domain": [-1, 3]}, "axis": {"orient": "bottom", "values": [-1,-0.5,0,0.5,1,1.5,2,2.5,3], "labelExpr": "datum.value % 1 == 0 ? '' + datum.value : ''", "tickSize": {"condition": {"test": "datum.value % 1 == 0", "value": -5}, "value": -3}, "labelPadding": 7, "title": "x / b", "titlePadding": -2}},
      "y": {"field": "y", "type": "quantitative", "scale": {"type": "log", "domain": [0.0001, 2]}, "axis": {"orient": "left", "values": [0.0001,0.0002,0.0003,0.0004,0.0005,0.0006,0.0007,0.0008,0.0009,0.001,0.002,0.003,0.004,0.005,0.006,0.007,0.008,0.009,0.01,0.02,0.03,0.04,0.05,0.06,0.07,0.08,0.09,0.1,0.2,0.3,0.4,0.5,0.6,0.7,0.8,0.9,1,2], "labelExpr": "datum.value == 10 ? '10¹' : datum.value == 1 ? '10⁰' : datum.value == 0.1 ? '10⁻¹' : datum.value == 0.01 ? '10⁻²' : datum.value == 0.001 ? '10⁻³' : datum.value == 0.0001 ? '10⁻⁴' : ''", "tickSize": {"condition": {"test": "indexof([10,1,0.1,0.01,0.001,0.0001], datum.value) >= 0", "value": -5}, "value": -3}, "labelPadding": 7, "title": "P_ss(x)", "titlePadding": -4}},
      "color": {"field": "s", "type": "nominal", "scale": {"domain": ["green","purple","magenta","cyan","orange","blue","red"], "range": ["#3ee055","#5a2aa0","#ff33ff","#33bbdd","#ffa500","#2277ee","#cc1133"]}, "legend": null}
     }},
    {"data": {"name": "crv"}, "transform": [{"filter": "datum.k == 'ss'"}],
     "mark": {"type": "line", "color": "black", "strokeWidth": 1.5, "clip": true, "interpolate": "monotone"},
     "encoding": {
      "x": {"field": "x", "type": "quantitative", "scale": {"domain": [-1, 3]}, "axis": {"orient": "top", "values": [-1,-0.5,0,0.5,1,1.5,2,2.5,3], "labels": false, "tickSize": {"condition": {"test": "datum.value % 1 == 0", "value": -5}, "value": -3}, "title": null}},
      "y": {"field": "y", "type": "quantitative", "scale": {"type": "log", "domain": [0.0001, 2]}, "axis": {"orient": "right", "values": [0.0001,0.0002,0.0003,0.0004,0.0005,0.0006,0.0007,0.0008,0.0009,0.001,0.002,0.003,0.004,0.005,0.006,0.007,0.008,0.009,0.01,0.02,0.03,0.04,0.05,0.06,0.07,0.08,0.09,0.1,0.2,0.3,0.4,0.5,0.6,0.7,0.8,0.9,1,2], "labels": false, "tickSize": {"condition": {"test": "indexof([10,1,0.1,0.01,0.001,0.0001], datum.value) >= 0", "value": -5}, "value": -3}, "title": null}}
     }}
   ],
   "resolve": {"axis": {"x": "independent", "y": "independent"}}
  },
  {"width": 173, "height": 137,
   "title": {"text": "(d)", "dx": 6, "offset": -6},
   "layer": [
    {"data": {"name": "pts"}, "transform": [{"filter": "datum.p == 'd'"}],
     "mark": {"type": "circle", "size": 28, "opacity": 1, "clip": true},
     "encoding": {
      "x": {"field": "x", "type": "quantitative", "scale": {"domain": [-1, 3]}, "axis": {"orient": "bottom", "values": [-1,-0.5,0,0.5,1,1.5,2,2.5,3], "labelExpr": "datum.value % 1 == 0 ? '' + datum.value : ''", "tickSize": {"condition": {"test": "datum.value % 1 == 0", "value": -5}, "value": -3}, "labelPadding": 7, "title": "x / b", "titlePadding": -2}},
      "y": {"field": "y", "type": "quantitative", "scale": {"type": "log", "domain": [0.0001, 1.5]}, "axis": {"orient": "left", "values": [0.0001,0.0002,0.0003,0.0004,0.0005,0.0006,0.0007,0.0008,0.0009,0.001,0.002,0.003,0.004,0.005,0.006,0.007,0.008,0.009,0.01,0.02,0.03,0.04,0.05,0.06,0.07,0.08,0.09,0.1,0.2,0.3,0.4,0.5,0.6,0.7,0.8,0.9,1], "labelExpr": "datum.value == 10 ? '10¹' : datum.value == 1 ? '10⁰' : datum.value == 0.1 ? '10⁻¹' : datum.value == 0.01 ? '10⁻²' : datum.value == 0.001 ? '10⁻³' : datum.value == 0.0001 ? '10⁻⁴' : ''", "tickSize": {"condition": {"test": "indexof([10,1,0.1,0.01,0.001,0.0001], datum.value) >= 0", "value": -5}, "value": -3}, "labelPadding": 7, "title": "P_ss(x)", "titlePadding": -4}},
      "color": {"field": "s", "type": "nominal", "scale": {"domain": ["green","purple","magenta","cyan","orange","blue","red"], "range": ["#3ee055","#5a2aa0","#ff33ff","#33bbdd","#ffa500","#2277ee","#cc1133"]}, "legend": null}
     }},
    {"data": {"name": "crv"}, "transform": [{"filter": "datum.k == 'ss'"}],
     "mark": {"type": "line", "color": "black", "strokeWidth": 1.5, "clip": true, "interpolate": "monotone"},
     "encoding": {
      "x": {"field": "x", "type": "quantitative", "scale": {"domain": [-1, 3]}, "axis": {"orient": "top", "values": [-1,-0.5,0,0.5,1,1.5,2,2.5,3], "labels": false, "tickSize": {"condition": {"test": "datum.value % 1 == 0", "value": -5}, "value": -3}, "title": null}},
      "y": {"field": "y", "type": "quantitative", "scale": {"type": "log", "domain": [0.0001, 1.5]}, "axis": {"orient": "right", "values": [0.0001,0.0002,0.0003,0.0004,0.0005,0.0006,0.0007,0.0008,0.0009,0.001,0.002,0.003,0.004,0.005,0.006,0.007,0.008,0.009,0.01,0.02,0.03,0.04,0.05,0.06,0.07,0.08,0.09,0.1,0.2,0.3,0.4,0.5,0.6,0.7,0.8,0.9,1], "labels": false, "tickSize": {"condition": {"test": "indexof([10,1,0.1,0.01,0.001,0.0001], datum.value) >= 0", "value": -5}, "value": -3}, "title": null}}
     }}
   ],
   "resolve": {"axis": {"x": "independent", "y": "independent"}}
  }
]
}
